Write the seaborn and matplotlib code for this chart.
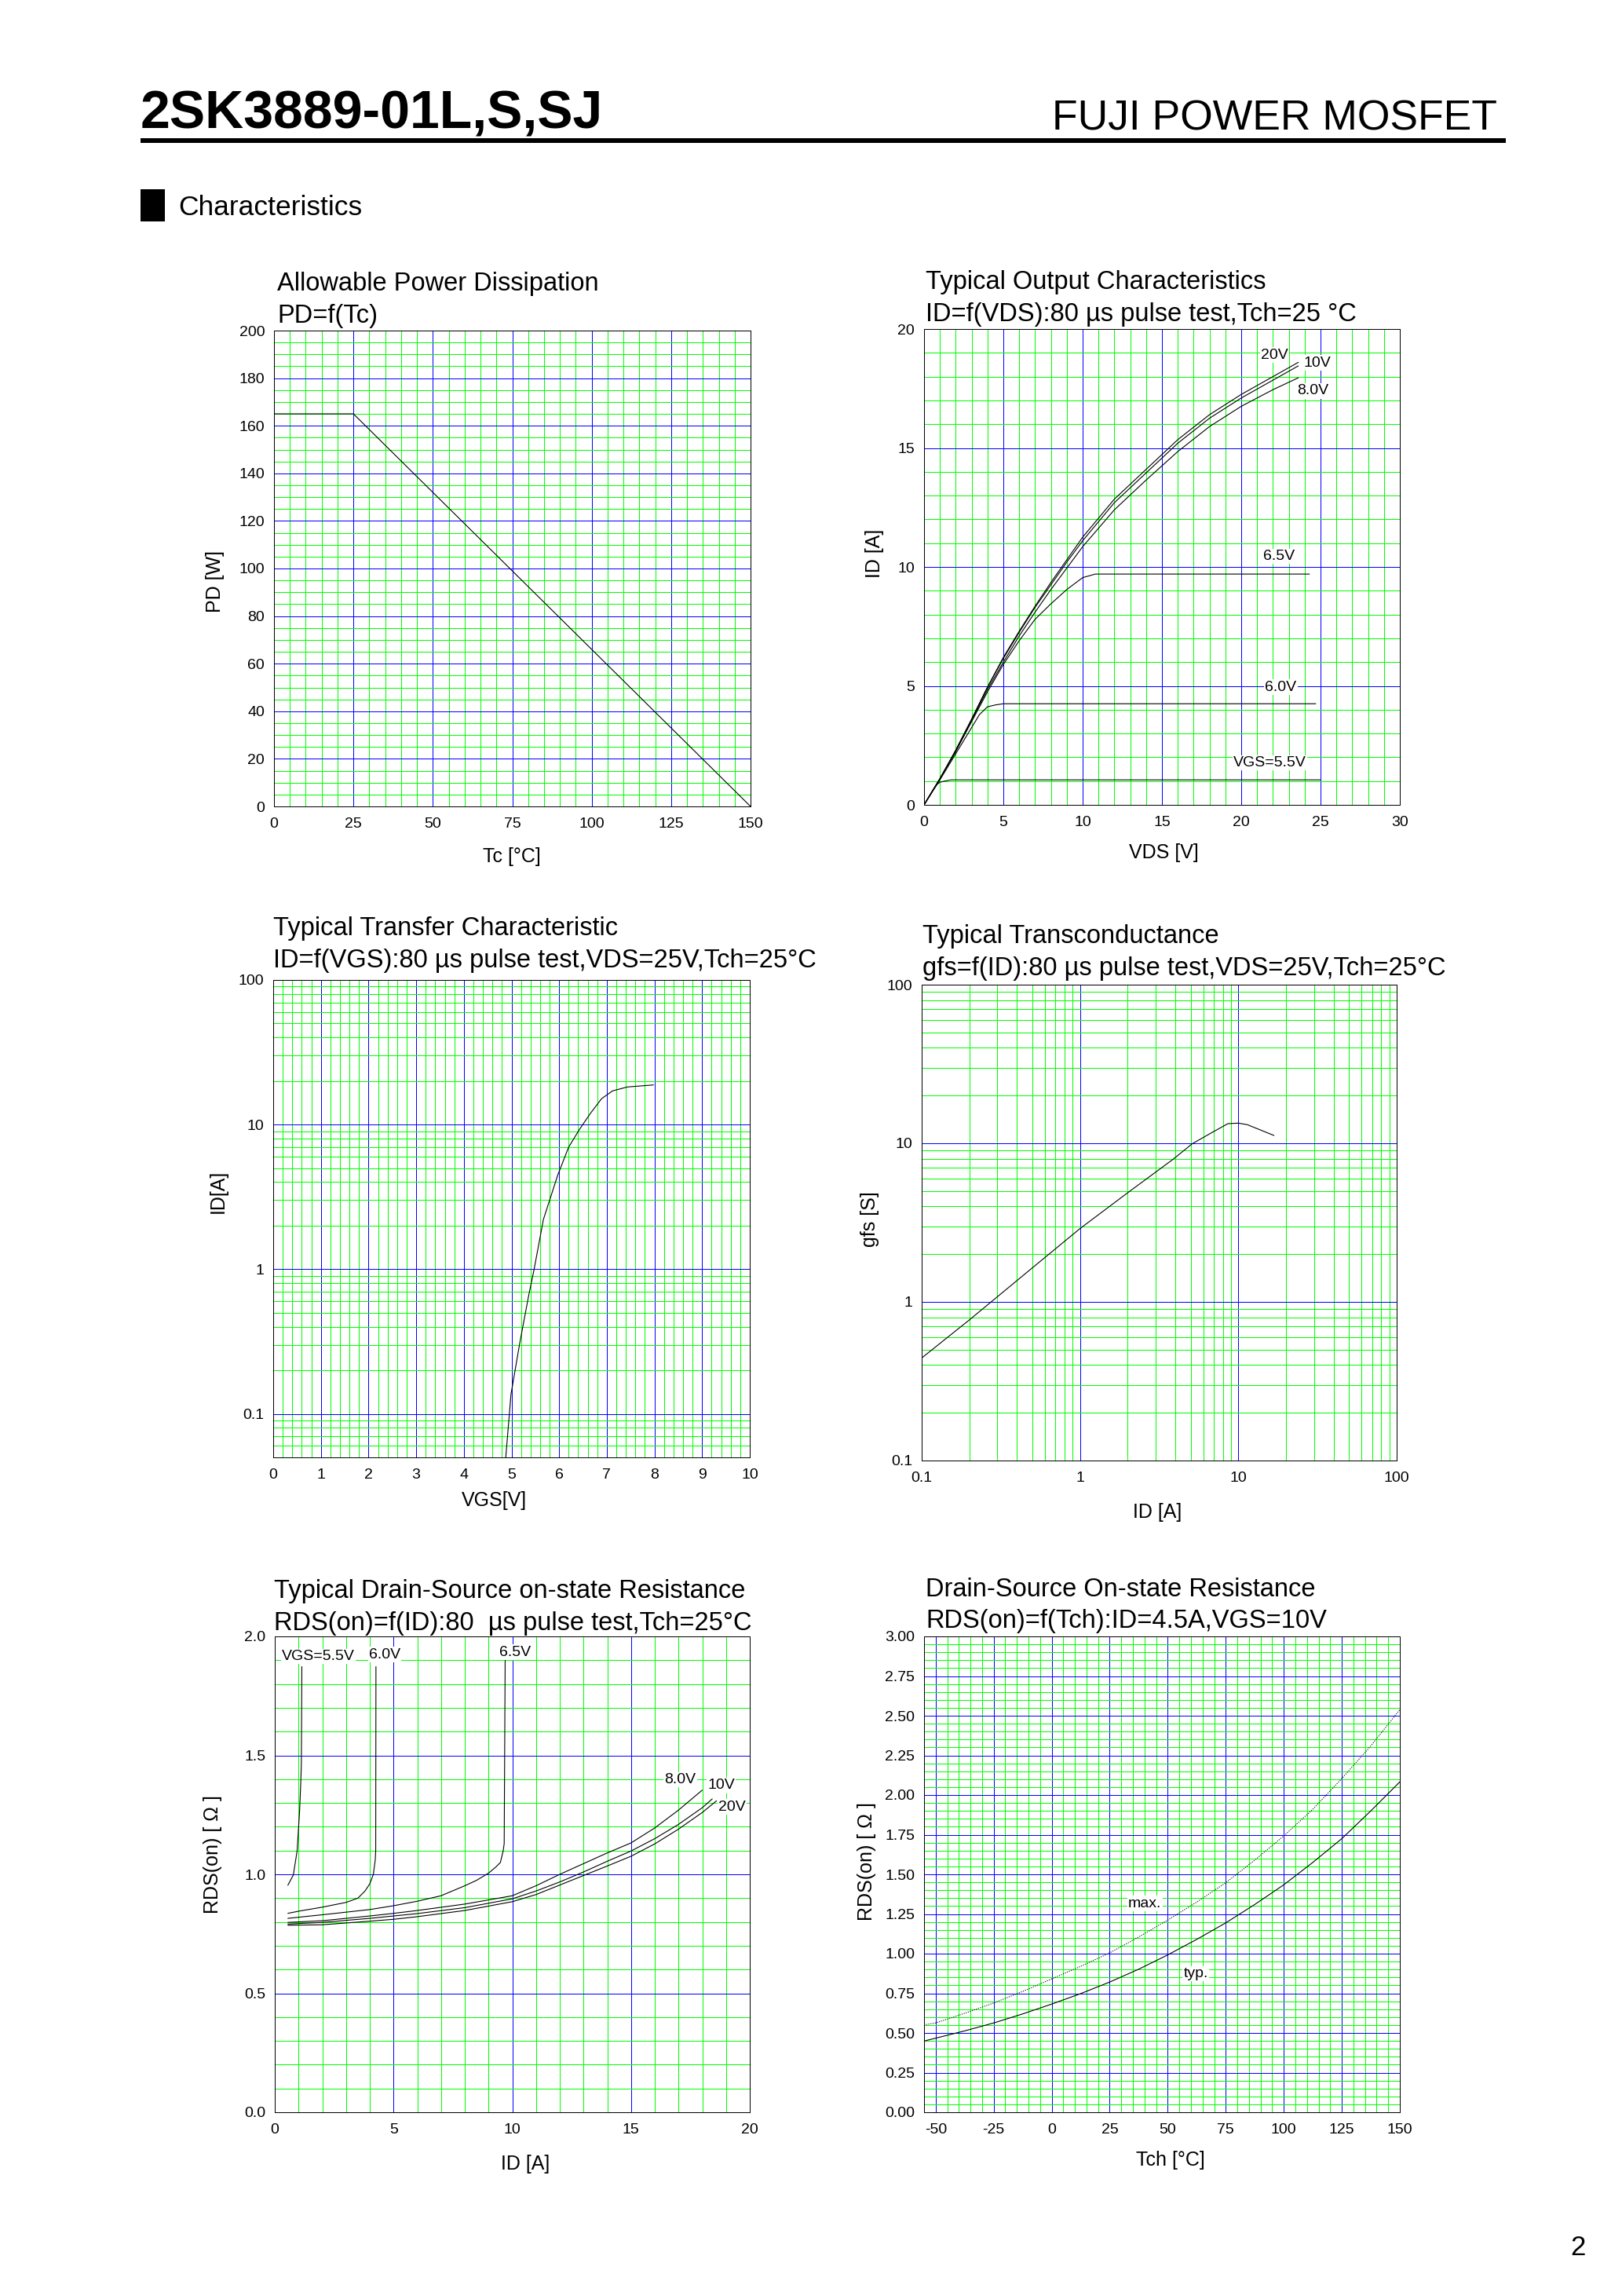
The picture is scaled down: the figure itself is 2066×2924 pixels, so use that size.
import numpy as np
import matplotlib
matplotlib.use('Agg')
import matplotlib.pyplot as plt
import seaborn as sns
from matplotlib.patches import Rectangle
from matplotlib.ticker import MultipleLocator, LogLocator, NullFormatter

# ---- data ----
# Allowable power dissipation
tc = [0, 25, 150]
pd_w = [165, 165, 0]

# Typical output characteristics ID=f(VDS)
vds_hi = [0, 1, 2, 3, 4, 5, 6, 7, 8, 9, 10, 12, 14, 16, 18, 20, 22, 23.6]
id_20v = [0, 1.1, 2.3, 3.6, 4.95, 6.2, 7.3, 8.35, 9.35, 10.3, 11.25, 12.85, 14.1, 15.35, 16.4, 17.25, 18.0, 18.6]
id_10v = [0, 1.1, 2.3, 3.6, 4.95, 6.15, 7.25, 8.3, 9.25, 10.2, 11.1, 12.7, 13.95, 15.2, 16.25, 17.1, 17.85, 18.45]
id_8v = [0, 1.1, 2.25, 3.55, 4.85, 6.0, 7.1, 8.1, 9.05, 9.95, 10.85, 12.4, 13.65, 14.85, 15.9, 16.75, 17.45, 17.95]
vds_65 = [0, 1, 2, 3, 4, 5, 6, 7, 8, 9, 10, 10.8, 24.3]
id_65v = [0, 1.1, 2.25, 3.5, 4.75, 5.9, 6.9, 7.8, 8.45, 9.05, 9.55, 9.7, 9.7]
vds_60 = [0, 1, 2, 3, 3.5, 4, 4.5, 5, 24.7]
id_60v = [0, 1.05, 2.15, 3.25, 3.8, 4.12, 4.2, 4.25, 4.25]
vds_55 = [0, 0.5, 0.8, 1.0, 1.3, 1.7, 25]
id_55v = [0, 0.55, 0.85, 0.95, 1.0, 1.05, 1.05]
out_labels = ['20V', '10V', '8.0V', '6.5V', '6.0V', 'VGS=5.5V']

# Typical transfer characteristic ID=f(VGS)
vgs = [4.88, 4.99, 5.17, 5.36, 5.475, 5.67, 5.97, 6.2, 6.43, 6.66, 6.89, 7.12, 7.43, 7.98]
id_tr = [0.05, 0.137, 0.304, 0.656, 1.0, 2.21, 4.47, 6.99, 9.3, 12.0, 15.1, 17.1, 18.2, 18.8]

# Typical transconductance gfs=f(ID)
id_gfs = [0.1, 0.2, 0.5, 1, 2.04, 3.84, 5.12, 6.82, 8.59, 10, 11.4, 16.8]
gfs = [0.443, 0.77, 1.64, 2.9, 4.95, 7.88, 9.94, 11.7, 13.3, 13.4, 13.1, 11.2]

# Typical RDS(on)=f(ID)
ir_55 = [0.55, 0.78, 0.94, 1.045, 1.10, 1.12, 1.14]
r_55 = [0.954, 0.997, 1.098, 1.266, 1.40, 1.469, 1.873]
ir_60 = [0.55, 1.0, 2.0, 3.0, 3.5, 3.8, 4.0, 4.15, 4.23, 4.25, 4.26]
r_60 = [0.836, 0.845, 0.862, 0.882, 0.9, 0.93, 0.96, 1.0, 1.06, 1.10, 1.873]
ir_65 = [0.55, 2, 4, 5, 6, 7, 8, 8.5, 9.0, 9.3, 9.5, 9.62, 9.66, 9.7]
r_65 = [0.815, 0.83, 0.852, 0.868, 0.887, 0.91, 0.952, 0.975, 1.005, 1.03, 1.05, 1.10, 1.13, 1.899]
ir_80 = [0.55, 2, 4, 5, 6, 8, 10, 11, 12, 13, 14, 15, 16, 17, 18]
r_80 = [0.798, 0.805, 0.825, 0.836, 0.848, 0.875, 0.91, 0.952, 1.0, 1.045, 1.09, 1.132, 1.195, 1.27, 1.354]
ir_10 = [0.55, 2, 4, 5, 6, 8, 10, 11, 12, 13, 14, 15, 16, 17, 18, 18.42]
r_10 = [0.791, 0.798, 0.815, 0.825, 0.835, 0.86, 0.897, 0.93, 0.968, 1.01, 1.055, 1.098, 1.15, 1.21, 1.28, 1.317]
ir_20 = [0.55, 2, 4, 5, 6, 8, 10, 11, 12, 13, 14, 15, 16, 17, 18, 18.6]
r_20 = [0.786, 0.788, 0.803, 0.811, 0.822, 0.848, 0.885, 0.915, 0.955, 0.995, 1.035, 1.076, 1.128, 1.19, 1.26, 1.309]
rds_labels = ['VGS=5.5V', '6.0V', '6.5V', '8.0V', '10V', '20V']

# RDS(on)=f(Tch)
tch = [-55, -50, -37.5, -25, -12.5, 0, 12.5, 25, 37.5, 50, 62.5, 75, 87.5, 100, 112.5, 125, 137.5, 150]
r_typ = [0.449, 0.467, 0.513, 0.563, 0.62, 0.682, 0.748, 0.821, 0.902, 0.992, 1.09, 1.194, 1.31, 1.434, 1.575, 1.725, 1.9, 2.083]
r_max = [0.551, 0.563, 0.624, 0.689, 0.762, 0.841, 0.92, 1.005, 1.105, 1.212, 1.325, 1.447, 1.59, 1.742, 1.91, 2.104, 2.31, 2.538]

# ---- page setup ----
W, H = 2066, 2924
sns.set_theme(style='white', rc={'text.color': 'black', 'axes.labelcolor': 'black',
                                 'xtick.color': 'black', 'ytick.color': 'black',
                                 'axes.edgecolor': 'black'})
plt.rcParams['font.family'] = ['Liberation Sans', 'DejaVu Sans']
plt.rcParams['axes.unicode_minus'] = False

fig = plt.figure(figsize=(W / 100, H / 100), dpi=100)
fig.patch.set_facecolor('white')

GREEN = '#00ff00'
BLUE = '#0000ff'
LW = 0.72  # ~1 px


def ptext(x, y, s, **kw):
    # x, y in page pixels, y measured from the top
    return fig.text(x / W, 1 - y / H, s, **kw)


def make_axes(l, t, r, b):
    ax = fig.add_axes([l / W, 1 - b / H, (r - l) / W, (b - t) / H])
    ax.set_axisbelow(True)
    for sp in ax.spines.values():
        sp.set_color('black')
        sp.set_linewidth(LW)
    ax.tick_params(which='both', length=0, labelsize=14)
    ax.tick_params(axis='x', pad=10)
    ax.tick_params(axis='y', pad=8.5)
    ax.grid(which='minor', color=GREEN, linewidth=LW)
    ax.grid(which='major', color=BLUE, linewidth=LW)
    return ax


def labels(ax, box, title1, title2, tpos, xlabel, xl, ylabel, yl):
    l, t, r, b = box
    w, h = r - l, b - t
    ptext(tpos[0], tpos[1], title1, fontsize=23.5, va='baseline', ha='left')
    ptext(tpos[0], tpos[2], title2, fontsize=23.5, va='baseline', ha='left')
    ax.set_xlabel(xlabel, fontsize=18, va='baseline', ha='center')
    ax.xaxis.set_label_coords((xl[0] - l) / w, -(xl[1] - b) / h)
    ax.set_ylabel(ylabel, fontsize=18, va='center', ha='center', rotation=90)
    ax.yaxis.set_label_coords((yl[0] - l) / w, 1 - (yl[1] - t) / h)


def curve(ax, x, y, **kw):
    kw.setdefault('color', 'black')
    kw.setdefault('linewidth', 0.8)
    sns.lineplot(x=x, y=y, ax=ax, sort=False, estimator=None, zorder=3, **kw)


def tag(ax, x, y, s):
    ax.text(x, y, s, fontsize=14, ha='center', va='center', zorder=4,
            bbox=dict(facecolor='white', edgecolor='none', pad=1))


# ---- header ----
ptext(179, 163, '2SK3889-01L,S,SJ', fontsize=49, fontweight='bold', va='baseline')
ptext(1907, 165, 'FUJI POWER MOSFET', fontsize=38.5, va='baseline', ha='right')
fig.add_artist(Rectangle((179 / W, 1 - 182 / H), (1918 - 179) / W, 6.5 / H,
                         transform=fig.transFigure, facecolor='black', edgecolor='none'))
fig.add_artist(Rectangle((179 / W, 1 - 282 / H), 31 / W, 41 / H,
                         transform=fig.transFigure, facecolor='black', edgecolor='none'))
ptext(227, 274, 'Characteristics', fontsize=25.5, va='baseline')
ptext(2020, 2872, '2', fontsize=25, va='baseline', ha='right')

# ---- 1: allowable power dissipation ----
box1 = (349, 421, 956, 1027)
ax1 = make_axes(*box1)
curve(ax1, tc, pd_w)
ax1.set_xlim(0, 150)
ax1.set_ylim(0, 200)
ax1.set_xticks(np.arange(0, 151, 25))
ax1.set_yticks(np.arange(0, 201, 20))
ax1.xaxis.set_minor_locator(MultipleLocator(5))
ax1.yaxis.set_minor_locator(MultipleLocator(5))
labels(ax1, box1, 'Allowable Power Dissipation', 'PD=f(Tc)', (353, 370, 411),
       'Tc [°C]', (652, 1098), 'PD [W]', (274, 740))

# ---- 2: output characteristics ----
box2 = (1177, 419, 1783, 1025)
ax2 = make_axes(*box2)
curve(ax2, vds_hi, id_20v)
curve(ax2, vds_hi, id_10v)
curve(ax2, vds_hi, id_8v)
curve(ax2, vds_65, id_65v)
curve(ax2, vds_60, id_60v)
curve(ax2, vds_55, id_55v)
ax2.set_xlim(0, 30)
ax2.set_ylim(0, 20)
ax2.set_xticks(np.arange(0, 31, 5))
ax2.set_yticks(np.arange(0, 21, 5))
ax2.xaxis.set_minor_locator(MultipleLocator(1))
ax2.yaxis.set_minor_locator(MultipleLocator(1))
for s, (x, y) in zip(out_labels, [(22.1, 18.9), (24.8, 18.57), (24.5, 17.4),
                                  (22.4, 10.45), (22.5, 4.95), (21.8, 1.77)]):
    tag(ax2, x, y, s)
labels(ax2, box2, 'Typical Output Characteristics', 'ID=f(VDS):80 µs pulse test,Tch=25 °C',
       (1179, 368, 409), 'VDS [V]', (1482, 1093), 'ID [A]', (1114, 705))

# ---- 3: transfer characteristic ----
box3 = (348, 1248, 955, 1856)
ax3 = make_axes(*box3)
curve(ax3, vgs, id_tr)
ax3.set_yscale('log')
ax3.set_xlim(0, 10)
ax3.set_ylim(0.05, 100)
ax3.set_xticks(np.arange(0, 11, 1))
ax3.xaxis.set_minor_locator(MultipleLocator(0.2))
ax3.set_yticks([0.1, 1, 10, 100], labels=['0.1', '1', '10', '100'])
ax3.yaxis.set_minor_locator(LogLocator(base=10, subs=np.arange(2, 10), numticks=20))
ax3.yaxis.set_minor_formatter(NullFormatter())
ax3.grid(which='minor', color=GREEN, linewidth=LW)
labels(ax3, box3, 'Typical Transfer Characteristic', 'ID=f(VGS):80 µs pulse test,VDS=25V,Tch=25°C',
       (348, 1191, 1232), 'VGS[V]', (629, 1918), 'ID[A]', (278, 1517))

# ---- 4: transconductance ----
box4 = (1174, 1254, 1779, 1860)
ax4 = make_axes(*box4)
curve(ax4, id_gfs, gfs)
ax4.set_xscale('log')
ax4.set_yscale('log')
ax4.set_xlim(0.1, 100)
ax4.set_ylim(0.1, 100)
dec = [0.1, 1, 10, 100]
dec_lab = ['0.1', '1', '10', '100']
ax4.set_xticks(dec, labels=dec_lab)
ax4.set_yticks(dec, labels=dec_lab)
for axis in (ax4.xaxis, ax4.yaxis):
    axis.set_minor_locator(LogLocator(base=10, subs=np.arange(2, 10), numticks=20))
    axis.set_minor_formatter(NullFormatter())
ax4.grid(which='minor', color=GREEN, linewidth=LW)
labels(ax4, box4, 'Typical Transconductance', 'gfs=f(ID):80 µs pulse test,VDS=25V,Tch=25°C',
       (1175, 1201, 1242), 'ID [A]', (1474, 1933), 'gfs [S]', (1108, 1553))

# ---- 5: RDS(on) vs ID ----
box5 = (350, 2084, 955, 2690)
ax5 = make_axes(*box5)
for x, y in [(ir_55, r_55), (ir_60, r_60), (ir_65, r_65), (ir_80, r_80), (ir_10, r_10), (ir_20, r_20)]:
    curve(ax5, x, y)
ax5.set_xlim(0, 20)
ax5.set_ylim(0, 2)
ax5.set_xticks(np.arange(0, 21, 5))
ax5.set_yticks(np.arange(0, 2.01, 0.5), labels=['0.0', '0.5', '1.0', '1.5', '2.0'])
ax5.xaxis.set_minor_locator(MultipleLocator(1))
ax5.yaxis.set_minor_locator(MultipleLocator(0.1))
for s, (x, y) in zip(rds_labels, [(1.83, 1.916), (4.63, 1.924), (10.12, 1.933),
                                  (17.08, 1.398), (18.79, 1.373), (19.25, 1.283)]):
    tag(ax5, x, y, s)
labels(ax5, box5, 'Typical Drain-Source on-state Resistance', 'RDS(on)=f(ID):80  µs pulse test,Tch=25°C',
       (349, 2035, 2076), 'ID [A]', (669, 2763), 'RDS(on) [ Ω ]', (271, 2362))

# ---- 6: RDS(on) vs Tch ----
box6 = (1177, 2084, 1783, 2690)
ax6 = make_axes(*box6)
curve(ax6, tch, r_typ)
curve(ax6, tch, r_max, linestyle=(0, (1, 1.5)))
ax6.set_xlim(-55, 150)
ax6.set_ylim(0, 3)
ax6.set_xticks(np.arange(-50, 151, 25))
yt = np.arange(0, 3.01, 0.25)
ax6.set_yticks(yt, labels=[f'{v:.2f}' for v in yt])
ax6.xaxis.set_minor_locator(MultipleLocator(5))
ax6.yaxis.set_minor_locator(MultipleLocator(0.05))
tag(ax6, 40.1, 1.316, 'max.')
tag(ax6, 62.1, 0.874, 'typ.')
labels(ax6, box6, 'Drain-Source On-state Resistance', 'RDS(on)=f(Tch):ID=4.5A,VGS=10V',
       (1179, 2033, 2073), 'Tch [°C]', (1491, 2758), 'RDS(on) [ Ω ]', (1104, 2371))

fig.savefig('out.png', dpi=100, facecolor='white')
